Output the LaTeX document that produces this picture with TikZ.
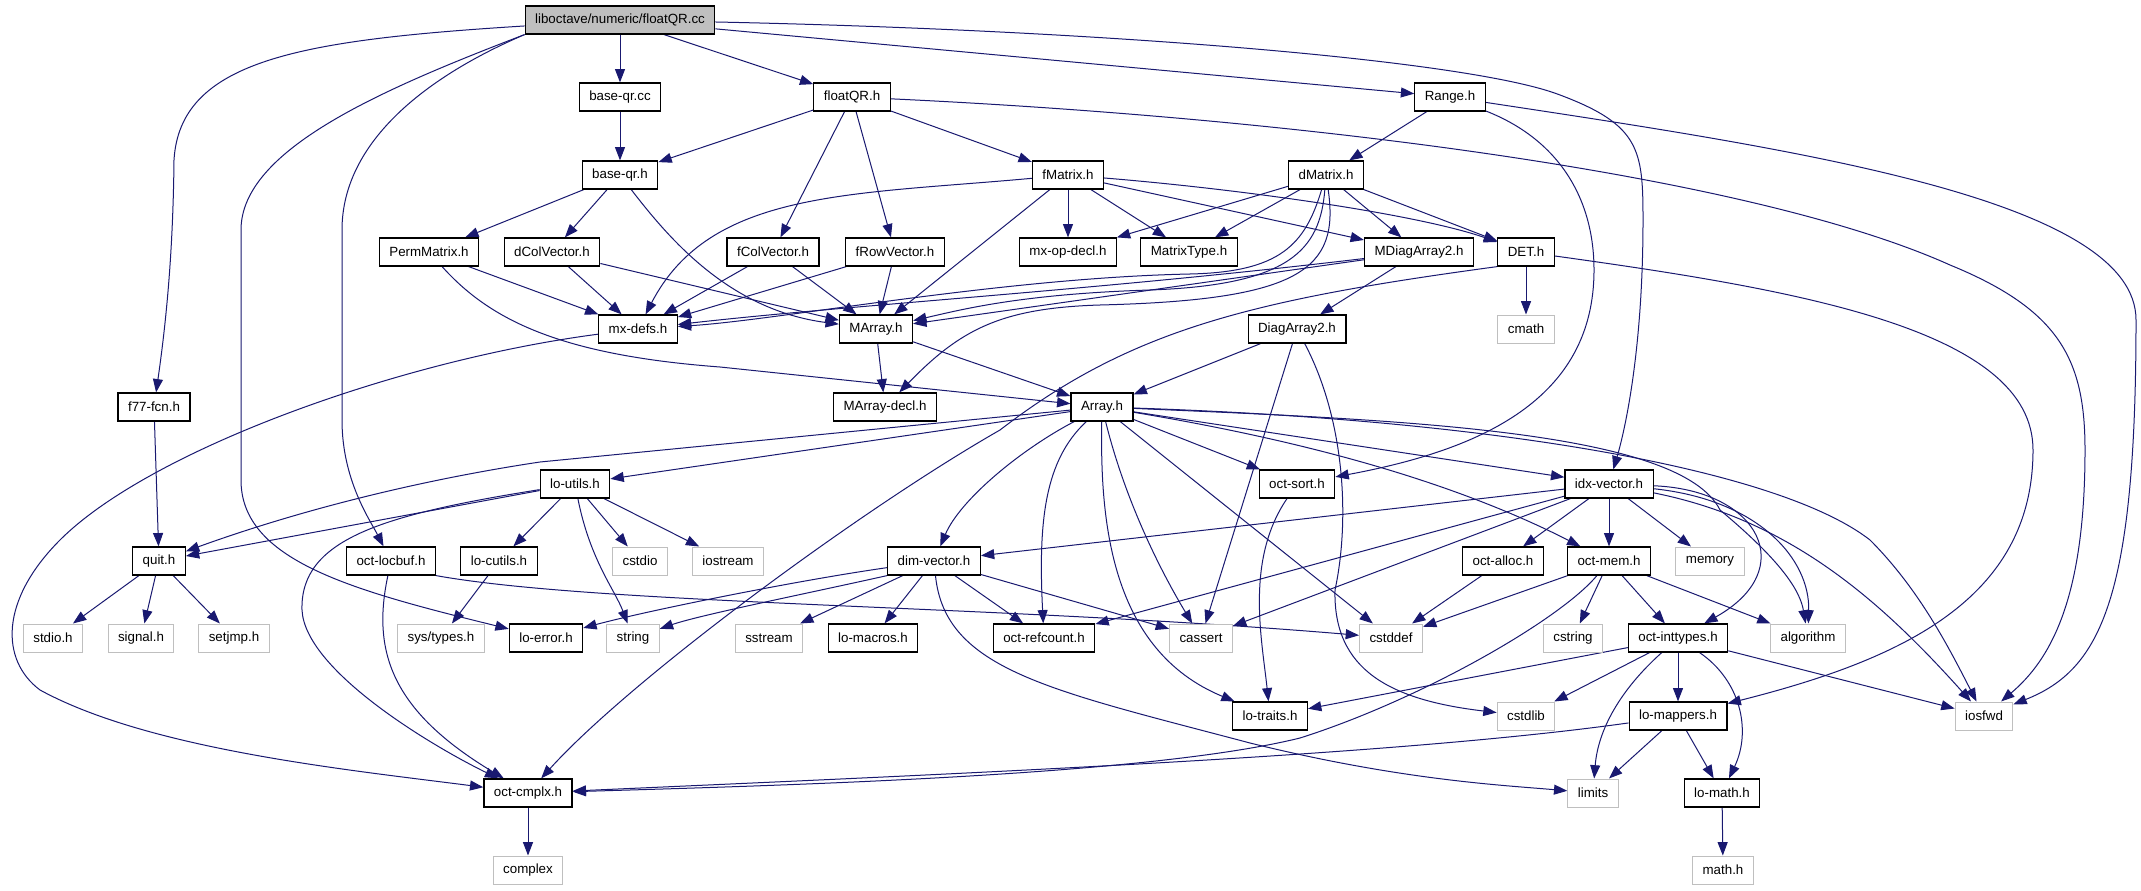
\documentclass[tikz,border=0pt]{standalone}
\usepackage{fontspec}
\setmainfont{Liberation Sans}
\usepackage{tikz}
\usetikzlibrary{arrows.meta}
\usepackage{xcolor}
\definecolor{edgeBlue}{HTML}{191970}
\definecolor{sysGray}{HTML}{BFBFBF}
\pgfdeclarelayer{edges}
\pgfsetlayers{edges,main}
\tikzset{
  hdr/.style={draw=black, line width=0.9pt, fill=white, rectangle, minimum height=21pt,
    inner xsep=7.5pt, inner ysep=0pt, font=\fontsize{10pt}{12pt}\selectfont},
  syshdr/.style={hdr, draw=sysGray, line width=0.75pt},
  roothdr/.style={hdr, fill=sysGray},
  inc/.style={-{Triangle[length=10pt,width=7.5pt]}, color=edgeBlue, line width=0.75pt}
}

\begin{document}
\begin{tikzpicture}[x=0.75pt,y=-0.75pt]
        \useasboundingbox (0,0) rectangle (2141,891);
        % rows of headers
        \node[roothdr] (floatQRcc) at (620,20) {liboctave/numeric/floatQR.cc};
        \node[hdr] (baseqrcc) at (620,97) {base-qr.cc};
        \node[hdr] (floatQRh) at (852,97) {floatQR.h};
        \node[hdr] (Rangeh) at (1450,97) {Range.h};
        \node[hdr] (baseqrh) at (620,175) {base-qr.h};
        \node[hdr] (fMatrixh) at (1068,175) {fMatrix.h};
        \node[hdr] (dMatrixh) at (1326,175) {dMatrix.h};
        \node[hdr] (PermMatrixh) at (429,252) {PermMatrix.h};
        \node[hdr] (dColVectorh) at (552,252) {dColVector.h};
        \node[hdr] (fColVectorh) at (773,252) {fColVector.h};
        \node[hdr] (fRowVectorh) at (895,252) {fRowVector.h};
        \node[hdr] (mxopdeclh) at (1068,252) {mx-op-decl.h};
        \node[hdr] (MatrixTypeh) at (1189,252) {MatrixType.h};
        \node[hdr] (MDiagArrayh) at (1419,252) {MDiagArray2.h};
        \node[hdr] (DETh) at (1526,252) {DET.h};
        \node[hdr] (mxdefsh) at (638,329) {mx-defs.h};
        \node[hdr] (MArrayh) at (876,329) {MArray.h};
        \node[hdr] (DiagArrayh) at (1297,329) {DiagArray2.h};
        \node[syshdr] (cmath) at (1526,329) {cmath};
        \node[hdr] (ffcnh) at (154,407) {f77-fcn.h};
        \node[hdr] (MArraydeclh) at (885,407) {MArray-decl.h};
        \node[hdr] (Arrayh) at (1102,407) {Array.h};
        \node[hdr] (loutilsh) at (575,484) {lo-utils.h};
        \node[hdr] (octsorth) at (1297,484) {oct-sort.h};
        \node[hdr] (idxvectorh) at (1609,484) {idx-vector.h};
        \node[hdr] (quith) at (159,561) {quit.h};
        \node[hdr] (octlocbufh) at (391,561) {oct-locbuf.h};
        \node[hdr] (locutilsh) at (499,561) {lo-cutils.h};
        \node[syshdr] (cstdio) at (640,561) {cstdio};
        \node[syshdr] (iostream) at (728,561) {iostream};
        \node[hdr] (dimvectorh) at (934,561) {dim-vector.h};
        \node[hdr] (octalloch) at (1503,561) {oct-alloc.h};
        \node[hdr] (octmemh) at (1609,561) {oct-mem.h};
        \node[syshdr] (memory) at (1710,561) {memory};
        \node[syshdr] (stdioh) at (53,638) {stdio.h};
        \node[syshdr] (signalh) at (141,638) {signal.h};
        \node[syshdr] (setjmph) at (234,638) {setjmp.h};
        \node[syshdr] (systypesh) at (441,638) {sys/types.h};
        \node[hdr] (loerrorh) at (546,638) {lo-error.h};
        \node[syshdr] (stringinc) at (633,638) {string};
        \node[syshdr] (sstream) at (769,638) {sstream};
        \node[hdr] (lomacrosh) at (873,638) {lo-macros.h};
        \node[hdr] (octrefcounth) at (1044,638) {oct-refcount.h};
        \node[syshdr] (cassert) at (1201,638) {cassert};
        \node[syshdr] (cstddef) at (1391,638) {cstddef};
        \node[syshdr] (cstring) at (1573,638) {cstring};
        \node[hdr] (octinttypesh) at (1678,638) {oct-inttypes.h};
        \node[syshdr] (algorithm) at (1808,638) {algorithm};
        \node[hdr] (lotraitsh) at (1270,716) {lo-traits.h};
        \node[syshdr] (cstdlib) at (1526,716) {cstdlib};
        \node[hdr] (lomappersh) at (1678,716) {lo-mappers.h};
        \node[syshdr] (iosfwd) at (1984,716) {iosfwd};
        \node[hdr] (octcmplxh) at (528,793) {oct-cmplx.h};
        \node[syshdr] (limits) at (1593,793) {limits};
        \node[hdr] (lomathh) at (1722,793) {lo-math.h};
        \node[syshdr] (complex) at (528,870) {complex};
        \node[syshdr] (mathh) at (1723,870) {math.h};

        \begin{pgfonlayer}{edges}
        \fill[white] (0,0) rectangle (2141,891);
        % floatQR.cc
        \draw[inc] (floatQRcc) .. controls (300,40) and (180,60) .. (174,160) .. controls (173,260) and (165,330) .. (ffcnh);
        \draw[inc] (floatQRcc.south west) .. controls (380,90) and (241,150) .. (241,230) -- (241,480) .. controls (241,560) and (350,590) .. (loerrorh);
        \draw[inc] (floatQRcc.south west) .. controls (430,75) and (342,140) .. (342,230) -- (342,420) .. controls (342,480) and (370,520) .. (octlocbufh);
        \draw[inc] (floatQRcc) -- (baseqrcc);
        \draw[inc] (floatQRcc) -- (floatQRh);
        \draw[inc] (floatQRcc) -- (Rangeh);
        \draw[inc] (floatQRcc) .. controls (1100,30) and (1470,60) .. (1560,95) .. controls (1640,125) and (1643,150) .. (1643,220) .. controls (1643,350) and (1625,430) .. (idxvectorh);
        \draw[inc] (baseqrcc) -- (baseqrh);
        % floatQR.h, Range.h
        \draw[inc] (floatQRh) -- (baseqrh);
        \draw[inc] (floatQRh) -- (fMatrixh);
        \draw[inc] (floatQRh) -- (fColVectorh);
        \draw[inc] (floatQRh) -- (fRowVectorh);
        \draw[inc] (floatQRh) .. controls (1300,118) and (1750,175) .. (1950,265) .. controls (2060,310) and (2085,360) .. (2085,450) .. controls (2085,600) and (2050,660) .. (iosfwd);
        \draw[inc] (Rangeh) -- (dMatrixh);
        \draw[inc] (Rangeh) .. controls (1560,140) and (1594,200) .. (1594,270) .. controls (1594,400) and (1480,450) .. (octsorth);
        \draw[inc] (Rangeh) .. controls (1800,150) and (2136,200) .. (2136,320) .. controls (2136,600) and (2100,670) .. (iosfwd);
        % base-qr.h and the vectors
        \draw[inc] (baseqrh) -- (PermMatrixh);
        \draw[inc] (baseqrh) -- (dColVectorh);
        \draw[inc] (baseqrh) .. controls (670,240) and (730,310) .. (MArrayh);
        \draw[inc] (PermMatrixh) -- (mxdefsh);
        \draw[inc] (PermMatrixh) .. controls (490,320) and (560,355) .. (720,367) -- (Arrayh);
        \draw[inc] (dColVectorh) -- (mxdefsh);
        \draw[inc] (dColVectorh) -- (MArrayh);
        \draw[inc] (fColVectorh) -- (mxdefsh);
        \draw[inc] (fColVectorh) -- (MArrayh);
        \draw[inc] (fRowVectorh) -- (mxdefsh);
        \draw[inc] (fRowVectorh) -- (MArrayh);
        % fMatrix.h, dMatrix.h
        \draw[inc] (fMatrixh) .. controls (850,195) and (710,190) .. (mxdefsh);
        \draw[inc] (fMatrixh) -- (MArrayh);
        \draw[inc] (fMatrixh) -- (mxopdeclh);
        \draw[inc] (fMatrixh) -- (MatrixTypeh);
        \draw[inc] (fMatrixh) -- (MDiagArrayh);
        \draw[inc] (fMatrixh) .. controls (1250,190) and (1420,215) .. (DETh);
        \draw[inc] (dMatrixh) .. controls (1305,245) and (1280,272) .. (1190,274) .. controls (1000,278) and (780,320) .. (mxdefsh);
        \draw[inc] (dMatrixh) .. controls (1320,250) and (1290,285) .. (1150,290) .. controls (1020,294) and (960,310) .. (MArrayh);
        \draw[inc] (dMatrixh) .. controls (1340,270) and (1300,300) .. (1100,305) .. controls (1000,308) and (960,330) .. (MArraydeclh);
        \draw[inc] (dMatrixh) -- (mxopdeclh);
        \draw[inc] (dMatrixh) -- (MatrixTypeh);
        \draw[inc] (dMatrixh) -- (MDiagArrayh);
        \draw[inc] (dMatrixh) -- (DETh);
        \draw[inc] (MDiagArrayh) -- (DiagArrayh);
        \draw[inc] (MDiagArrayh) -- (MArrayh);
        \draw[inc] (MDiagArrayh) .. controls (1100,290) and (850,305) .. (mxdefsh);
        \draw[inc] (DETh) -- (cmath);
        \draw[inc] (DETh.south west) .. controls (1250,300) and (1130,330) .. (1000,430) .. controls (860,510) and (630,680) .. (octcmplxh);
        \draw[inc] (DETh) .. controls (1800,290) and (2033,330) .. (2033,450) .. controls (2033,600) and (1900,660) .. (lomappersh);
        \draw[inc] (DiagArrayh) -- (Arrayh);
        \draw[inc] (DiagArrayh) -- (cassert);
        \draw[inc] (DiagArrayh) .. controls (1345,420) and (1350,520) .. (1335,590) .. controls (1333,670) and (1390,700) .. (cstdlib);
        \draw[inc] (MArrayh) -- (Arrayh);
        \draw[inc] (MArrayh) -- (MArraydeclh);
        \draw[inc] (mxdefsh) .. controls (400,360) and (150,450) .. (60,540) .. controls (0,600) and (0,660) .. (40,690) .. controls (150,750) and (350,770) .. (octcmplxh);
        \draw[inc] (ffcnh) -- (quith);
        % Array.h
        \draw[inc] (Arrayh) -- (loutilsh);
        \draw[inc] (Arrayh) -- (540,462) .. controls (420,480) and (300,510) .. (quith);
        \draw[inc] (Arrayh) .. controls (1020,450) and (960,500) .. (dimvectorh);
        \draw[inc] (Arrayh) .. controls (1045,460) and (1038,520) .. (octrefcounth);
        \draw[inc] (Arrayh) .. controls (1100,520) and (1110,650) .. (lotraitsh);
        \draw[inc] (Arrayh) .. controls (1125,500) and (1160,570) .. (cassert);
        \draw[inc] (Arrayh) -- (cstddef);
        \draw[inc] (Arrayh) -- (octsorth);
        \draw[inc] (Arrayh) -- (idxvectorh);
        \draw[inc] (Arrayh) .. controls (1300,440) and (1450,480) .. (octmemh);
        \draw[inc] (Arrayh) .. controls (1400,420) and (1680,430) .. (1720,510) .. controls (1780,560) and (1800,590) .. (algorithm);
        \draw[inc] (Arrayh) .. controls (1500,420) and (1780,470) .. (1870,540) .. controls (1920,590) and (1950,650) .. (iosfwd);
        % lo-utils.h, quit.h, oct-locbuf.h
        \draw[inc] (loutilsh) -- (quith);
        \draw[inc] (loutilsh) -- (locutilsh);
        \draw[inc] (loutilsh) -- (cstdio);
        \draw[inc] (loutilsh) -- (iostream);
        \draw[inc] (loutilsh) .. controls (590,560) and (615,590) .. (stringinc);
        \draw[inc] (loutilsh) .. controls (380,515) and (300,540) .. (302,610) .. controls (305,670) and (430,745) .. (octcmplxh);
        \draw[inc] (quith) -- (stdioh);
        \draw[inc] (quith) -- (signalh);
        \draw[inc] (quith) -- (setjmph);
        \draw[inc] (octlocbufh.south east) .. controls (600,605) and (1000,605) .. (cstddef);
        \draw[inc] (octlocbufh) .. controls (372,650) and (390,710) .. (octcmplxh);
        \draw[inc] (locutilsh) -- (systypesh);
        % dim-vector.h, oct-sort.h
        \draw[inc] (dimvectorh) .. controls (800,580) and (650,610) .. (loerrorh);
        \draw[inc] (dimvectorh.south west) .. controls (800,595) and (700,615) .. (stringinc);
        \draw[inc] (dimvectorh) -- (sstream);
        \draw[inc] (dimvectorh) -- (lomacrosh);
        \draw[inc] (dimvectorh) -- (octrefcounth);
        \draw[inc] (dimvectorh) -- (cassert);
        \draw[inc] (dimvectorh) .. controls (945,670) and (1050,690) .. (1250,743) .. controls (1400,780) and (1500,785) .. (limits);
        \draw[inc] (octsorth) .. controls (1245,560) and (1262,640) .. (lotraitsh);
        % idx-vector.h
        \draw[inc] (idxvectorh) -- (dimvectorh);
        \draw[inc] (idxvectorh) -- (octrefcounth);
        \draw[inc] (idxvectorh) -- (cassert);
        \draw[inc] (idxvectorh) -- (octalloch);
        \draw[inc] (idxvectorh) -- (octmemh);
        \draw[inc] (idxvectorh) -- (memory);
        \draw[inc] (idxvectorh) .. controls (1760,490) and (1800,570) .. (octinttypesh);
        \draw[inc] (idxvectorh) .. controls (1760,500) and (1810,560) .. (algorithm);
        \draw[inc] (idxvectorh) .. controls (1790,520) and (1880,600) .. (iosfwd);
        \draw[inc] (octalloch) -- (cstddef);
        % oct-mem.h, oct-inttypes.h, lo-mappers.h
        \draw[inc] (octmemh) -- (cstddef);
        \draw[inc] (octmemh) .. controls (1560,620) and (1420,700) .. (1300,738) .. controls (1150,775) and (800,785) .. (octcmplxh);
        \draw[inc] (octmemh) -- (cstring);
        \draw[inc] (octmemh) -- (octinttypesh);
        \draw[inc] (octmemh) -- (algorithm);
        \draw[inc] (octinttypesh) -- (lotraitsh);
        \draw[inc] (octinttypesh) -- (cstdlib);
        \draw[inc] (octinttypesh) .. controls (1620,690) and (1598,730) .. (limits);
        \draw[inc] (octinttypesh) -- (lomappersh);
        \draw[inc] (octinttypesh) .. controls (1740,680) and (1752,730) .. (lomathh);
        \draw[inc] (octinttypesh) -- (iosfwd);
        \draw[inc] (lomappersh) .. controls (1400,755) and (1000,772) .. (octcmplxh);
        \draw[inc] (lomappersh) -- (limits);
        \draw[inc] (lomappersh) -- (lomathh);
        \draw[inc] (lomathh) -- (mathh);
        \draw[inc] (octcmplxh) -- (complex);
        \end{pgfonlayer}
      \end{tikzpicture}
\end{document}
